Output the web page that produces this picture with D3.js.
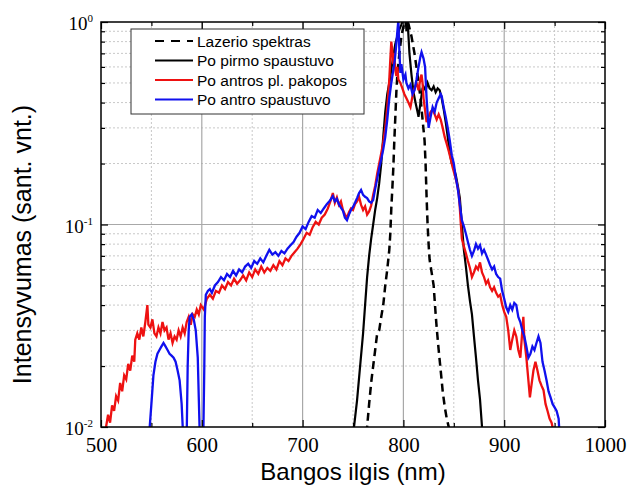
<!DOCTYPE html>
<html>
<head>
<meta charset="utf-8">
<script src="https://cdn.jsdelivr.net/npm/d3@7"></script>
<style>
  body { margin: 0; background: #fff; }
  svg { display: block; }
</style>
</head>
<body>
<div id="chart"></div>
<script>
// wavelength (nm), relative intensity
var laser = [
  [762,0.008],[764,0.010],[766,0.013],[768,0.0165],[770,0.020],[772,0.024],[774,0.029],[776,0.030],
  [778,0.035],[780,0.040],[782,0.050],[784,0.060],[786,0.075],[787,0.090],[788,0.12],[789,0.15],
  [790,0.19],[791,0.26],[792,0.34],[793,0.45],[794,0.55],[796,0.70],[798,0.85],[800,0.95],[802,1.0],
  [805,0.98],[808,0.85],[811,0.70],[814,0.55],[817,0.42],[819,0.33],[821,0.26],[822,0.20],[823,0.137],
  [824,0.10],[825,0.080],[826,0.067],[828,0.058],[830,0.050],[832,0.036],[833,0.031],[835,0.024],
  [837,0.019],[839,0.015],[841,0.0126],[843,0.011],[845,0.010],[847,0.0085]
];

var pirmo = [
  [748,0.008],[751,0.010],[754,0.0135],[757,0.0198],[760,0.029],[762,0.040],[764,0.055],[766,0.070],
  [768,0.085],[770,0.100],[772,0.118],[774,0.135],[776,0.16],[778,0.20],[780,0.27],[782,0.36],
  [784,0.44],[786,0.50],[788,0.58],[790,0.68],[792,0.78],[794,0.85],[796,0.92],[798,0.97],[800,1.05],
  [802,1.1],[803,0.9],[804,1.05],[806,0.70],[808,0.55],[810,0.45],[812,0.40],[814,0.36],[815,0.34],
  [817,0.40],[819,0.47],[820,0.48],[822,0.46],[824,0.50],[826,0.47],[828,0.46],[830,0.48],[832,0.45],
  [834,0.47],[836,0.46],[838,0.42],[840,0.37],[842,0.32],[844,0.27],[846,0.225],[848,0.20],[850,0.19],
  [852,0.175],[854,0.155],[856,0.135],[858,0.10],[860,0.075],[862,0.062],[864,0.050],[866,0.042],
  [868,0.036],[870,0.028],[872,0.022],[874,0.017],[876,0.0137],[878,0.010],[880,0.008]
];

var antros = [
  [505,0.010],[507,0.0115],[509,0.0105],[511,0.0128],[513,0.012],[515,0.0142],[517,0.0135],[519,0.0165],
  [521,0.015],[523,0.018],[525,0.0172],[527,0.0205],[529,0.019],[531,0.0225],[533,0.021],[534,0.027],
  [536,0.029],[538,0.027],[540,0.031],[542,0.028],[544,0.033],[546,0.040],[547,0.032],[549,0.031],
  [551,0.034],[553,0.029],[555,0.028],[557,0.031],[559,0.029],[561,0.033],[563,0.030],[565,0.031],
  [567,0.027],[569,0.029],[571,0.026],[573,0.028],[575,0.027],[577,0.030],[579,0.028],[581,0.031],
  [583,0.029],[585,0.033],[587,0.035],[589,0.032],[591,0.036],[593,0.035],[595,0.038],[597,0.036],
  [599,0.040],[602,0.038],[605,0.043],[608,0.045],[611,0.043],[614,0.047],[617,0.046],[620,0.050],
  [623,0.048],[626,0.052],[629,0.050],[632,0.054],[635,0.051],[638,0.053],[641,0.056],[644,0.053],
  [647,0.058],[650,0.055],[653,0.060],[656,0.057],[659,0.062],[662,0.058],[665,0.061],[668,0.059],
  [671,0.063],[674,0.060],[677,0.066],[680,0.063],[683,0.068],[686,0.066],[689,0.070],[692,0.073],
  [695,0.076],[698,0.080],[701,0.085],[704,0.091],[707,0.089],[710,0.097],[713,0.103],[716,0.100],
  [719,0.108],[722,0.112],[725,0.120],[728,0.132],[730,0.143],[732,0.128],[734,0.136],[736,0.125],
  [738,0.130],[740,0.118],[742,0.112],[744,0.108],[746,0.115],[748,0.120],[750,0.118],[752,0.126],
  [754,0.130],[756,0.137],[758,0.125],[760,0.118],[762,0.123],[764,0.112],[766,0.116],[768,0.124],
  [770,0.140],[772,0.155],[774,0.178],[776,0.200],[778,0.225],[780,0.255],[782,0.30],[784,0.38],
  [786,0.52],[787,0.65],[788,0.80],[789,0.72],[790,0.62],[791,0.70],[792,0.58],[793,0.54],[794,0.60],
  [795,0.52],[797,0.50],[799,0.47],[801,0.44],[803,0.42],[805,0.40],[807,0.38],[809,0.43],[811,0.47],
  [813,0.50],[815,0.46],[817,0.53],[818,0.55],[819,0.50],[820,0.42],[822,0.35],[823,0.32],[825,0.34],
  [827,0.36],[829,0.37],[831,0.35],[833,0.33],[835,0.35],[837,0.33],[839,0.30],[841,0.27],[843,0.25],
  [845,0.23],[847,0.21],[849,0.19],[851,0.175],[853,0.16],[855,0.14],[856,0.12],[857,0.10],[858,0.085],
  [860,0.078],[862,0.072],[864,0.066],[866,0.061],[868,0.055],[870,0.058],[872,0.062],[874,0.060],
  [876,0.065],[878,0.058],[880,0.055],[882,0.051],[884,0.053],[886,0.049],[888,0.047],[890,0.049],
  [892,0.046],[894,0.044],[896,0.045],[898,0.040],[900,0.037],[902,0.035],[904,0.030],[906,0.024],
  [908,0.027],[910,0.030],[912,0.028],[914,0.024],[916,0.022],[918,0.030],[919,0.035],[920,0.027],
  [922,0.022],[924,0.017],[925.5,0.014],[927,0.016],[929,0.019],[931,0.021],[933,0.019],[935,0.017],
  [937,0.016],[939,0.0152],[941,0.013],[943,0.012],[945,0.011],[947,0.0105],[949,0.0095]
];

var antro = [
  [548,0.0095],[550,0.013],[552,0.018],[554,0.021],[556,0.023],[558,0.024],[560,0.025],[562,0.026],
  [564,0.025],[566,0.024],[568,0.023],[570,0.0225],[572,0.022],[574,0.021],[576,0.019],[578,0.017],
  [580,0.013],[581.5,0.009],[585,0.009],[586,0.02],[587,0.03],[588,0.035],[590,0.036],[592,0.034],
  [594,0.030],[596,0.022],[597,0.014],[598,0.009],[601.5,0.009],[602.5,0.02],[603,0.035],[604,0.045],
  [606,0.047],[608,0.048],[610,0.046],[613,0.050],[616,0.052],[619,0.055],[622,0.053],[625,0.057],
  [628,0.055],[631,0.059],[634,0.056],[637,0.060],[640,0.058],[643,0.062],[646,0.064],[649,0.061],
  [652,0.066],[655,0.064],[658,0.068],[661,0.065],[664,0.070],[667,0.075],[670,0.071],[673,0.073],
  [676,0.070],[679,0.074],[682,0.072],[685,0.076],[688,0.079],[691,0.082],[694,0.087],[697,0.091],
  [700,0.098],[703,0.095],[706,0.103],[709,0.110],[712,0.108],[715,0.118],[718,0.114],[721,0.120],
  [724,0.126],[727,0.131],[730,0.138],[732,0.130],[734,0.134],[736,0.126],[738,0.121],[740,0.117],
  [742,0.108],[744,0.105],[746,0.112],[748,0.118],[750,0.122],[752,0.128],[754,0.135],[756,0.143],
  [758,0.148],[760,0.140],[762,0.137],[764,0.135],[766,0.130],[768,0.128],[770,0.132],[772,0.150],
  [774,0.168],[776,0.19],[778,0.21],[780,0.235],[782,0.27],[784,0.33],[786,0.42],[788,0.50],[790,0.58],
  [791.5,0.65],[793,0.78],[794,0.90],[795,1.02],[796,0.72],[797,0.56],[798,0.62],[800,0.52],[802,0.55],
  [803,0.50],[805,0.47],[807,0.49],[809,0.44],[811,0.46],[813,0.52],[815,0.60],[817,0.68],[818,0.71],
  [820,0.66],[821.5,0.60],[823,0.42],[825,0.30],[827,0.34],[829,0.38],[831,0.36],[833,0.40],[835,0.42],
  [837,0.44],[838,0.43],[840,0.38],[842,0.34],[844,0.30],[846,0.26],[848,0.22],[850,0.20],[852,0.17],
  [854,0.15],[856,0.125],[858,0.105],[860,0.098],[862,0.090],[864,0.082],[866,0.075],[868,0.070],
  [870,0.074],[872,0.080],[874,0.076],[876,0.079],[878,0.072],[880,0.075],[882,0.071],[884,0.067],
  [886,0.063],[888,0.060],[890,0.062],[892,0.057],[894,0.055],[896,0.054],[898,0.047],[900,0.043],
  [902,0.039],[904,0.037],[906,0.040],[908,0.038],[910,0.041],[912,0.040],[914,0.035],[916,0.033],
  [918,0.030],[920,0.028],[922,0.025],[924,0.022],[926,0.023],[928,0.025],[930,0.024],[932,0.026],
  [934,0.028],[936,0.026],[938,0.021],[940,0.019],[942,0.017],[944,0.015],[946,0.014],[948,0.013],
  [950,0.0125],[952,0.012],[954,0.011],[955,0.009]
];

var xTicks = [500, 600, 700, 800, 900, 1000];
var xMinor = [550, 650, 750, 850, 950];
var yTicks = [0.01, 0.1, 1];
var yExp = ["-2", "-1", "0"];
var legendLabels = ["Lazerio spektras", "Po pirmo spaustuvo", "Po antros pl. pakopos", "Po antro spaustuvo"];

var SERIF = "'Liberation Serif', 'Times New Roman', 'DejaVu Serif', serif";
var SANS = "'Liberation Sans', Arial, sans-serif";

var width = 628, height = 496;
var margin = {top: 22, right: 23, bottom: 69, left: 101};
var w = width - margin.left - margin.right,
    h = height - margin.top - margin.bottom;

var x = d3.scaleLinear().domain([500, 1000]).range([0, w]);
var y = d3.scaleLog().domain([0.01, 1]).range([h, 0]);

var yMinor = [];
[0.01, 0.1].forEach(function(d) {
  for (var k = 2; k <= 9; k++) yMinor.push(d * k);
});

var svg = d3.select("#chart").append("svg")
  .attr("width", width)
  .attr("height", height);

var g = svg.append("g")
  .attr("transform", "translate(" + margin.left + "," + margin.top + ")");

g.append("clipPath").attr("id", "clip")
  .append("rect").attr("width", w).attr("height", h);

// grid
g.selectAll(".gx").data(xMinor).enter().append("line")
  .attr("x1", x).attr("x2", x).attr("y1", 0).attr("y2", h)
  .attr("stroke", "#c8c8c8").attr("stroke-dasharray", "2,2");
g.selectAll(".gy").data(yMinor).enter().append("line")
  .attr("y1", y).attr("y2", y).attr("x1", 0).attr("x2", w)
  .attr("stroke", "#c8c8c8").attr("stroke-dasharray", "2,2");
g.selectAll(".gxm").data(xTicks.slice(1, -1)).enter().append("line")
  .attr("x1", x).attr("x2", x).attr("y1", 0).attr("y2", h)
  .attr("stroke", "#a8a8a8").attr("stroke-width", 1.2);
g.append("line")
  .attr("y1", y(0.1)).attr("y2", y(0.1)).attr("x1", 0).attr("x2", w)
  .attr("stroke", "#a8a8a8").attr("stroke-width", 1.2);

// lines
var line = d3.line()
  .x(function(d) { return x(d[0]); })
  .y(function(d) { return y(d[1]); });

var plot = g.append("g").attr("clip-path", "url(#clip)");
plot.append("path").datum(laser)
  .attr("fill", "none").attr("stroke", "#000").attr("stroke-width", 2.5)
  .attr("stroke-dasharray", "8,5").attr("d", line);
plot.append("path").datum(pirmo)
  .attr("fill", "none").attr("stroke", "#000").attr("stroke-width", 2.2).attr("d", line);
plot.append("path").datum(antros)
  .attr("fill", "none").attr("stroke", "#ee1111").attr("stroke-width", 2.3).attr("d", line);
plot.append("path").datum(antro)
  .attr("fill", "none").attr("stroke", "#1010ee").attr("stroke-width", 2.3).attr("d", line);

// axes, ticks inside
function style(sel) {
  sel.select(".domain").remove();
  sel.selectAll("line").attr("stroke", "#000").attr("stroke-width", 1.2);
}
g.append("g").attr("transform", "translate(0," + h + ")")
  .call(d3.axisBottom(x).tickValues(xTicks).tickSize(-7).tickPadding(10).tickFormat(d3.format("d")))
  .call(style)
  .call(function(s) {
    s.attr("font-family", SERIF).attr("font-size", 21);
    s.selectAll("text").style("font-family", SERIF).style("font-size", "21px").attr("fill", "#000");
  });
g.append("g").attr("transform", "translate(0," + h + ")")
  .call(d3.axisBottom(x).tickValues(xMinor).tickSize(-4).tickFormat(""))
  .call(style);
g.append("g")
  .call(d3.axisTop(x).tickValues(xTicks).tickSize(-7).tickFormat(""))
  .call(style);
g.append("g")
  .call(d3.axisTop(x).tickValues(xMinor).tickSize(-4).tickFormat(""))
  .call(style);

g.append("g")
  .call(d3.axisLeft(y).tickValues(yTicks).tickSize(-7).tickFormat(""))
  .call(style);
g.append("g")
  .call(d3.axisLeft(y).tickValues(yMinor).tickSize(-4).tickFormat(""))
  .call(style);
g.append("g").attr("transform", "translate(" + w + ",0)")
  .call(d3.axisRight(y).tickValues(yTicks).tickSize(-7).tickFormat(""))
  .call(style);
g.append("g").attr("transform", "translate(" + w + ",0)")
  .call(d3.axisRight(y).tickValues(yMinor).tickSize(-4).tickFormat(""))
  .call(style);

// y tick labels 10^n
var yl = g.selectAll(".ylab").data(yTicks).enter().append("text")
  .attr("x", -8).attr("y", function(d) { return y(d) + 8; })
  .attr("text-anchor", "end")
  .style("font-family", SERIF)
  .style("font-size", "19px").attr("fill", "#000");
yl.append("tspan").text("10");
yl.append("tspan").attr("dy", -8).style("font-size", "11px")
  .text(function(d, i) { return yExp[i]; });

// frame
g.append("rect").attr("width", w).attr("height", h)
  .attr("fill", "none").attr("stroke", "#000").attr("stroke-width", 1.5);

// legend
var leg = g.append("g").attr("transform", "translate(30,7)");
leg.append("rect").attr("width", 233).attr("height", 85)
  .attr("fill", "#fff").attr("stroke", "#333").attr("stroke-width", 1);
var legColors = ["#000", "#000", "#ee1111", "#1010ee"];
legendLabels.forEach(function(t, i) {
  var ly = 12 + i * 19.5;
  leg.append("line").attr("x1", 24).attr("x2", 62).attr("y1", ly).attr("y2", ly)
    .attr("stroke", legColors[i]).attr("stroke-width", 2)
    .attr("stroke-dasharray", i === 0 ? "9,7" : null);
  leg.append("text").attr("x", 66).attr("y", ly + 5.5)
    .style("font-family", SANS)
    .style("font-size", "15.5px").attr("fill", "#000").text(t);
});

// axis titles
svg.append("text")
  .attr("x", margin.left + w / 2).attr("y", 480)
  .attr("text-anchor", "middle")
  .style("font-family", SANS)
  .style("font-size", "24px").text("Bangos ilgis (nm)");
svg.append("text")
  .attr("transform", "translate(31," + (margin.top + h / 2 + 20) + ") rotate(-90)")
  .attr("text-anchor", "middle")
  .style("font-family", SANS)
  .style("font-size", "25px").text("Intensyvumas (sant. vnt.)");
</script>
</body>
</html>
